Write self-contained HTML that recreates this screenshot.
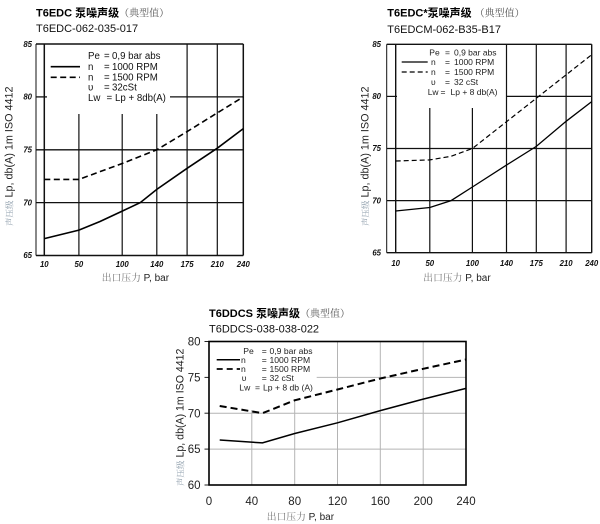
<!DOCTYPE html>
<html><head><meta charset="utf-8"><style>
html,body{margin:0;padding:0;background:#fff;}
svg{display:block;}
text{font-family:"Liberation Sans","Noto Sans CJK SC",sans-serif;}
.cj{font-family:"Noto Serif CJK SC","Liberation Serif",serif;}
.cjb{font-family:"Noto Sans CJK SC",sans-serif;font-weight:bold;}
</style></head><body>
<svg width="600" height="524" viewBox="0 0 600 524" xmlns="http://www.w3.org/2000/svg">
<rect width="600" height="524" fill="#fff"/>

<!-- ============ CHART 1 ============ -->
<text x="36" y="16.5" font-size="11" fill="#000"><tspan font-weight="bold">T6EDC </tspan><tspan class="cjb" font-size="11">泵噪声级</tspan><tspan class="cj" font-size="10" fill="#555">（典型值）</tspan></text>
<text x="36" y="32" font-size="11" fill="#111">T6EDC-062-035-017</text>

<g stroke="#111" fill="none">
  <line x1="36" y1="44" x2="36" y2="255.5" stroke-width="1"/>
  <line x1="44.3" y1="44" x2="44.3" y2="255.5" stroke-width="1.5"/>
  <line x1="36" y1="44" x2="243.3" y2="44" stroke-width="1.5"/>
  <line x1="36" y1="255.5" x2="243.3" y2="255.5" stroke-width="1.5"/>
  <line x1="243.3" y1="44" x2="243.3" y2="255.5" stroke-width="1.5"/>
  <line x1="36" y1="96.9" x2="47" y2="96.9" stroke-width="1.3"/>
  <line x1="170" y1="96.9" x2="243.3" y2="96.9" stroke-width="1.3"/>
  <line x1="36" y1="149.8" x2="243.3" y2="149.8" stroke-width="1.3"/>
  <line x1="36" y1="202.6" x2="243.3" y2="202.6" stroke-width="1.3"/>
  <line x1="78.9" y1="114" x2="78.9" y2="255.5" stroke-width="1.2"/>
  <line x1="122.2" y1="114" x2="122.2" y2="255.5" stroke-width="1.2"/>
  <line x1="156.8" y1="114" x2="156.8" y2="255.5" stroke-width="1.2"/>
  <line x1="187.1" y1="44" x2="187.1" y2="255.5" stroke-width="1.2"/>
  <line x1="217.3" y1="44" x2="217.3" y2="255.5" stroke-width="1.2"/>
</g>
<polyline fill="none" stroke="#000" stroke-width="1.6" points="44.3,238.6 78.9,230.1 100,221.5 122.2,211.1 140.3,202.6 156.8,189.4 187.1,168.3 217.3,148.2 243.3,128.6"/>
<polyline fill="none" stroke="#000" stroke-width="1.6" stroke-dasharray="6 3.5" points="44.3,179.4 78.9,179.4 122.2,163.5 156.8,149.8 187.1,131.6 217.3,112.9 243.3,96.9"/>

<!-- legend 1 -->
<line x1="50.7" y1="66.7" x2="80" y2="66.7" stroke="#000" stroke-width="1.6"/>
<line x1="50.7" y1="77.3" x2="80" y2="77.3" stroke="#000" stroke-width="1.6" stroke-dasharray="6 3.5"/>
<g font-size="9.7" fill="#111">
  <text x="88" y="59.2">Pe</text><text x="104" y="59.2">=</text><text x="112" y="59.2">0,9 bar abs</text>
  <text x="88" y="69.9">n</text><text x="104" y="69.9">=</text><text x="112" y="69.9">1000 RPM</text>
  <text x="88" y="80.5">n</text><text x="104" y="80.5">=</text><text x="112" y="80.5">1500 RPM</text>
  <text x="88" y="90.5">υ</text><text x="104" y="90.5">=</text><text x="112" y="90.5">32cSt</text>
  <text x="88" y="100.8">Lw</text><text x="106.5" y="100.8">=</text><text x="115" y="100.8">Lp + 8db(A)</text>
</g>
<g font-size="7.8" font-weight="bold" font-style="italic" fill="#111" text-anchor="end">
  <text x="32" y="47">85</text><text x="32" y="99.6">80</text><text x="32" y="152.5">75</text><text x="32" y="205.3">70</text><text x="32" y="258.2">65</text>
</g>
<g font-size="7.8" font-weight="bold" font-style="italic" fill="#111" text-anchor="middle">
  <text x="44.3" y="266.8">10</text><text x="78.9" y="266.8">50</text><text x="122.2" y="266.8">100</text><text x="156.8" y="266.8">140</text><text x="187.1" y="266.8">175</text><text x="217.3" y="266.8">210</text><text x="243.3" y="266.8">240</text>
</g>
<text transform="translate(12.7,226) rotate(-90)" fill="#222"><tspan class="cj" font-size="8.5" fill="#8a9aa8">声压级</tspan><tspan font-size="10.8" dx="3">Lp, db(A) 1m ISO 4412</tspan></text>
<text x="101.7" y="281" fill="#222"><tspan class="cj" font-size="9.8" fill="#777">出口压力</tspan><tspan font-size="10"> P, bar</tspan></text>

<!-- ============ CHART 2 ============ -->
<text x="387.3" y="16.5" font-size="11" fill="#000"><tspan font-weight="bold">T6EDC*</tspan><tspan class="cjb" font-size="11">泵噪声级</tspan><tspan class="cj" font-size="10" fill="#555" dx="3">（典型值）</tspan></text>
<text x="387.3" y="33" font-size="11" fill="#111">T6EDCM-062-B35-B17</text>

<g stroke="#111" fill="none">
  <line x1="386.7" y1="44.3" x2="386.7" y2="252.7" stroke-width="1"/>
  <line x1="395.7" y1="44.3" x2="395.7" y2="252.7" stroke-width="1.4"/>
  <line x1="386.7" y1="44.3" x2="591.7" y2="44.3" stroke-width="1.4"/>
  <line x1="386.7" y1="252.7" x2="591.7" y2="252.7" stroke-width="1.4"/>
  <line x1="591.7" y1="44.3" x2="591.7" y2="252.7" stroke-width="1.4"/>
  <line x1="386.7" y1="96.4" x2="397" y2="96.4" stroke-width="1.2"/>
  <line x1="506.5" y1="96.4" x2="591.7" y2="96.4" stroke-width="1.2"/>
  <line x1="386.7" y1="148.5" x2="591.7" y2="148.5" stroke-width="1.2"/>
  <line x1="386.7" y1="200.6" x2="591.7" y2="200.6" stroke-width="1.2"/>
  <line x1="429.8" y1="108" x2="429.8" y2="252.7" stroke-width="1.2"/>
  <line x1="472.4" y1="108" x2="472.4" y2="252.7" stroke-width="1.2"/>
  <line x1="506.5" y1="44.3" x2="506.5" y2="252.7" stroke-width="1.2"/>
  <line x1="536.3" y1="44.3" x2="536.3" y2="252.7" stroke-width="1.2"/>
  <line x1="566.1" y1="44.3" x2="566.1" y2="252.7" stroke-width="1.2"/>
</g>
<polyline fill="none" stroke="#000" stroke-width="1.3" points="395.7,211.0 429.8,207.5 451.1,200.6 472.4,187.0 506.5,165.1 536.3,146.4 566.1,121.3 591.7,101.6"/>
<polyline fill="none" stroke="#000" stroke-width="1.2" stroke-dasharray="5 3" points="395.7,161.0 429.8,159.9 451.1,156.3 472.4,148.5 591.7,54.7"/>

<line x1="401.7" y1="62" x2="427.7" y2="62" stroke="#000" stroke-width="1.3"/>
<line x1="401.7" y1="72" x2="427.7" y2="72" stroke="#000" stroke-width="1.2" stroke-dasharray="5 3"/>
<g font-size="8.5" fill="#222">
  <text x="429.3" y="55.3">Pe</text><text x="445" y="55.3">=</text><text x="454" y="55.3">0,9 bar abs</text>
  <text x="431" y="65">n</text><text x="445" y="65">=</text><text x="454" y="65">1000 RPM</text>
  <text x="431" y="75">n</text><text x="445" y="75">=</text><text x="454" y="75">1500 RPM</text>
  <text x="431" y="85">υ</text><text x="445" y="85">=</text><text x="454" y="85">32 cSt</text>
  <text x="427.7" y="95">Lw</text><text x="440.5" y="95">=</text><text x="450.5" y="95">Lp + 8 db(A)</text>
</g>
<g font-size="7.8" font-weight="bold" font-style="italic" fill="#111" text-anchor="middle">
  <text x="376.7" y="47">85</text><text x="376.7" y="99.1">80</text><text x="376.7" y="151.2">75</text><text x="376.7" y="203.3">70</text><text x="376.7" y="255.4">65</text>
  <text x="395.7" y="266">10</text><text x="429.8" y="266">50</text><text x="472.4" y="266">100</text><text x="506.5" y="266">140</text><text x="536.3" y="266">175</text><text x="566.1" y="266">210</text><text x="591.7" y="266">240</text>
</g>
<text transform="translate(368.3,226) rotate(-90)" fill="#222"><tspan class="cj" font-size="8.5" fill="#8a9aa8">声压级</tspan><tspan font-size="10.8" dx="3">Lp, db(A) 1m ISO 4412</tspan></text>
<text x="423.3" y="281" fill="#222"><tspan class="cj" font-size="9.8" fill="#777">出口压力</tspan><tspan font-size="10"> P, bar</tspan></text>

<!-- ============ CHART 3 ============ -->
<text x="209" y="317" font-size="11" fill="#000"><tspan font-weight="bold">T6DDCS </tspan><tspan class="cjb" font-size="11">泵噪声级</tspan><tspan class="cj" font-size="10" fill="#555">（典型值）</tspan></text>
<text x="209" y="332.7" font-size="11" fill="#111">T6DDCS-038-038-022</text>

<g stroke="#b4b4b4" stroke-width="1" fill="none">
  <line x1="316.7" y1="377.4" x2="466" y2="377.4"/>
  <line x1="209" y1="413.2" x2="466" y2="413.2"/>
  <line x1="209" y1="449.1" x2="466" y2="449.1"/>
  <line x1="251.8" y1="410" x2="251.8" y2="485"/>
  <line x1="294.7" y1="399" x2="294.7" y2="485"/>
  <line x1="337.5" y1="341.5" x2="337.5" y2="485"/>
  <line x1="380.3" y1="341.5" x2="380.3" y2="485"/>
  <line x1="423.2" y1="341.5" x2="423.2" y2="485"/>
</g>
<g stroke="#222" stroke-width="1" fill="none">
  <line x1="204.5" y1="341.5" x2="209" y2="341.5"/><line x1="204.5" y1="377.4" x2="209" y2="377.4"/><line x1="204.5" y1="413.2" x2="209" y2="413.2"/><line x1="204.5" y1="449.1" x2="209" y2="449.1"/><line x1="204.5" y1="485" x2="209" y2="485"/>
</g>
<rect x="209" y="341.5" width="257" height="143.5" fill="none" stroke="#000" stroke-width="1.6"/>
<polyline fill="none" stroke="#000" stroke-width="1.5" points="219.7,440.0 262.5,442.9 294.7,433.5 337.5,422.8 380.3,410.6 423.2,399.1 466,388.4"/>
<polyline fill="none" stroke="#000" stroke-width="2" stroke-dasharray="7 4" points="219.7,406.0 262.5,413.2 294.7,400.3 337.5,389.5 380.3,378.5 423.2,368.8 466,359.5"/>

<line x1="216.7" y1="359.7" x2="240" y2="359.7" stroke="#000" stroke-width="1.5"/>
<line x1="216.7" y1="369" x2="240" y2="369" stroke="#000" stroke-width="1.8" stroke-dasharray="6 4"/>
<g font-size="8.6" fill="#222">
  <text x="243.3" y="353.8">Pe</text><text x="261.7" y="353.8">=</text><text x="269.5" y="353.8">0,9 bar abs</text>
  <text x="241" y="362.8">n</text><text x="261.7" y="362.8">=</text><text x="269.5" y="362.8">1000 RPM</text>
  <text x="241" y="372.1">n</text><text x="261.7" y="372.1">=</text><text x="269.5" y="372.1">1500 RPM</text>
  <text x="241.7" y="380.8">υ</text><text x="261.7" y="380.8">=</text><text x="269.5" y="380.8">32 cSt</text>
  <text x="239.3" y="390.4">Lw</text><text x="255" y="390.4">=</text><text x="263" y="390.4">Lp + 8 db (A)</text>
</g>
<g font-size="11.5" fill="#222" text-anchor="end">
  <text x="200.5" y="345.6">80</text><text x="200.5" y="381.5">75</text><text x="200.5" y="417.3">70</text><text x="200.5" y="453.2">65</text><text x="200.5" y="489.1">60</text>
</g>
<g font-size="11.5" fill="#222" text-anchor="middle">
  <text x="209" y="505.2">0</text><text x="251.8" y="505.2">40</text><text x="294.7" y="505.2">80</text><text x="337.5" y="505.2">120</text><text x="380.3" y="505.2">160</text><text x="423.2" y="505.2">200</text><text x="466" y="505.2">240</text>
</g>
<text transform="translate(183.5,486) rotate(-90)" fill="#222"><tspan class="cj" font-size="8.5" fill="#8a9aa8">声压级</tspan><tspan font-size="10.6" dx="3">Lp, db(A) 1m ISO 4412</tspan></text>
<text x="266.7" y="520" fill="#222"><tspan class="cj" font-size="9.8" fill="#777">出口压力</tspan><tspan font-size="10"> P, bar</tspan></text>
</svg>
</body></html>
